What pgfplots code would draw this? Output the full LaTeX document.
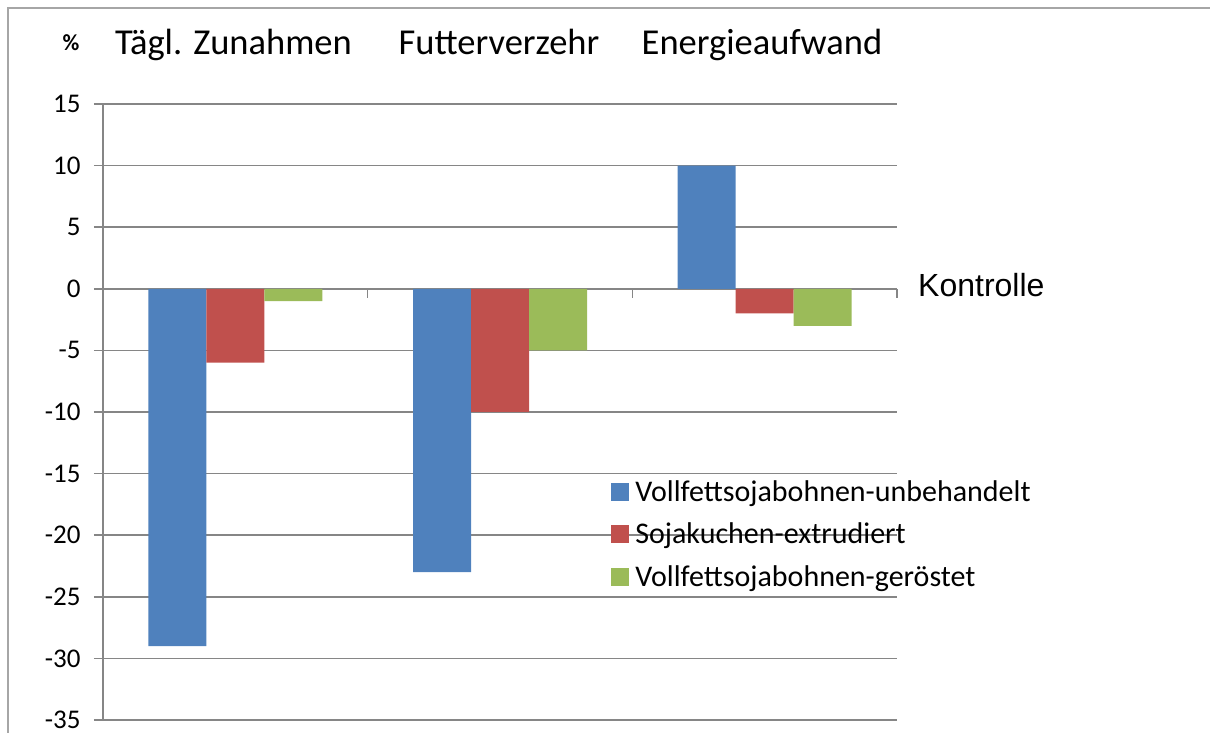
\documentclass[border=0pt]{standalone}
\usepackage{pgfplots}
\pgfplotsset{compat=1.18}
\usepackage{fontspec}
\setmainfont{Carlito}
\newfontfamily\arialf{Liberation Sans}
\definecolor{cblue}{HTML}{4F81BD}
\definecolor{cred}{HTML}{C0504D}
\definecolor{cgreen}{HTML}{9BBB59}
\definecolor{cgrid}{HTML}{868686}
\definecolor{cframe}{HTML}{A6A6A6}
\begin{document}
\begin{tikzpicture}[x=1pt,y=1pt]
\useasboundingbox (0,0) rectangle (1210,733);
\draw[cframe, line width=2pt] (8,0) -- (8,725) -- (1210,725);
\begin{axis}[
  at={(103pt,13pt)}, anchor=south west,
  width=794pt, height=616pt, scale only axis,
  xmin=-0.5, xmax=2.5, ymin=-35, ymax=15,
  ybar=0pt, bar width=58pt,
  axis y line=left, axis x line=middle,
  axis line style={cgrid, line width=1.5pt, -},
  hide obscured x ticks=false, hide obscured y ticks=false,
  ytick={-35,-30,...,15},
  xtick={-0.5,0.5,1.5,2.5}, xticklabels={},
  ymajorgrids, grid style={cgrid, line width=1.5pt},
  tick align=outside, major tick length=9pt,
  tick style={cgrid, line width=1.5pt},
  yticklabel style={font=\fontsize{27}{32}\selectfont, xshift=-10pt, inner ysep=0.5pt, /pgf/number format/assume math mode=true},
  legend style={at={(0.64,0.392)}, anchor=north west, draw=none, fill=none,
    font=\fontsize{30}{36}\selectfont, row sep=16pt, inner sep=0pt},
  legend cell align=left,
  legend image code/.code={\fill[#1] (0pt,-9pt) rectangle (18pt,9pt); \path (22pt,0pt);},
]
\addplot[fill=cblue, draw=none] coordinates {(0,-29) (1,-23) (2,10)};
\addplot[fill=cred, draw=none] coordinates {(0,-6) (1,-10) (2,-2)};
\addplot[fill=cgreen, draw=none] coordinates {(0,-1) (1,-5) (2,-3)};
\legend{Vollfettsojabohnen-unbehandelt, Sojakuchen-extrudiert, Vollfettsojabohnen-geröstet}
\end{axis}
\node[anchor=base, inner sep=0pt, font=\fontsize{36.5}{42}\selectfont] at (233.5,678) {Tägl. Zunahmen};
\node[anchor=base, inner sep=0pt, font=\fontsize{36.5}{42}\selectfont] at (499,678) {Futterverzehr};
\node[anchor=base, inner sep=0pt, font=\fontsize{36.5}{42}\selectfont] at (762,678) {Energieaufwand};
\node[anchor=base, inner sep=0pt, font=\fontsize{23}{26}\selectfont\bfseries] at (71,682) {\%};
\node[anchor=base west, inner sep=0pt, font=\fontsize{32}{38}\selectfont\arialf] at (918,436) {Kontrolle};
\end{tikzpicture}
\end{document}
